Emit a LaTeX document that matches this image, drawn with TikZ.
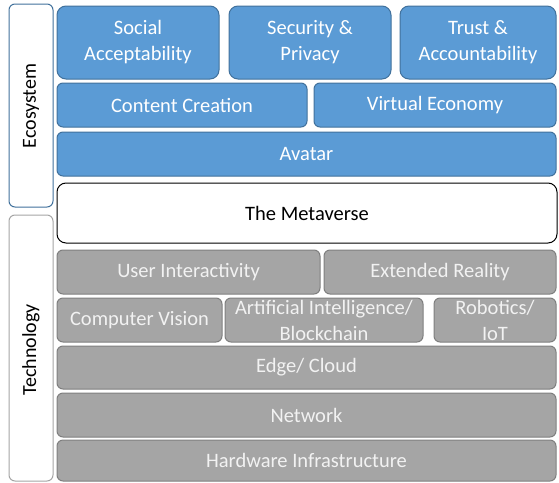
\documentclass[tikz,border=0pt]{standalone}
\usepackage{fontspec}
\setmainfont{Carlito}
\definecolor{ecoblue}{HTML}{5B9BD5}
\definecolor{ecoline}{HTML}{41719C}
\definecolor{techgray}{HTML}{A5A5A5}
\definecolor{techline}{HTML}{7F7F7F}
\begin{document}
\begin{tikzpicture}[x=1pt, y=-1pt,
  layer/.style={draw, line width=1pt, rounded corners=6pt, inner sep=0pt, align=center, text=white, font=\fontsize{20.5}{26}\selectfont},
  ecolayer/.style={layer, fill=ecoblue, draw=ecoline},
  techlayer/.style={layer, fill=techgray, draw=techline, text=white!95!black},
  side/.style={draw, line width=1pt, rounded corners=6pt, fill=white, inner sep=0pt, minimum width=44pt},
  sidelabel/.style={rotate=90, font=\fontsize{20}{24}\selectfont}]
\useasboundingbox (0,0) rectangle (559,482);

% side boxes
\node[side, draw=ecoline, minimum height=203pt] (ecobox) at (31,105.5) {};
\node[sidelabel] (ecolabel) at (31,106) {Ecosystem};
\node[side, draw=techgray, minimum height=266pt] (techbox) at (31,348) {};
\node[sidelabel] (techlabel) at (31,350) {Technology};

% ecosystem
\node[ecolayer, rounded corners=9pt, minimum width=162pt, minimum height=73pt] (social) at (138,42.5) {Social\\Acceptability};
\node[ecolayer, rounded corners=9pt, minimum width=162pt, minimum height=73pt] (security) at (310,42.5) {Security \&\\Privacy};
\node[ecolayer, rounded corners=9pt, minimum width=156pt, minimum height=73pt] (trust) at (478,42.5) {Trust \&\\Accountability};
\node[ecolayer, minimum width=250pt, minimum height=44pt] (content) at (182,105) {Content Creation};
\node[ecolayer, minimum width=242pt, minimum height=44pt] (economy) at (435,105) {Virtual Economy};
\node[ecolayer, minimum width=499pt, minimum height=44pt] (avatar) at (306.5,154) {Avatar};

% the metaverse
\node[layer, rounded corners=9pt, fill=white, draw=black, text=black, minimum width=500pt, minimum height=60pt] (metaverse) at (307,213) {The Metaverse};

% technology
\node[techlayer, minimum width=263pt, minimum height=44pt] (interact) at (188.5,272) {User Interactivity};
\node[techlayer, minimum width=232pt, minimum height=44pt] (xr) at (440,272) {Extended Reality};
\node[techlayer, minimum width=165pt, minimum height=44pt] (vision) at (139.5,320) {Computer Vision};
\node[techlayer, minimum width=198pt, minimum height=44pt] (ai) at (324,320) {Artificial Intelligence/\\Blockchain};
\node[techlayer, minimum width=122pt, minimum height=44pt] (robotics) at (495,320) {Robotics/\\IoT};
\node[techlayer, minimum width=499pt, minimum height=43pt] (edge) at (306.5,367.5) {Edge/ Cloud};
\node[techlayer, minimum width=499pt, minimum height=44pt] (network) at (306.5,415) {Network};
\node[techlayer, minimum width=499pt, minimum height=41pt] (hardware) at (306.5,460.5) {Hardware Infrastructure};
\end{tikzpicture}
\end{document}
